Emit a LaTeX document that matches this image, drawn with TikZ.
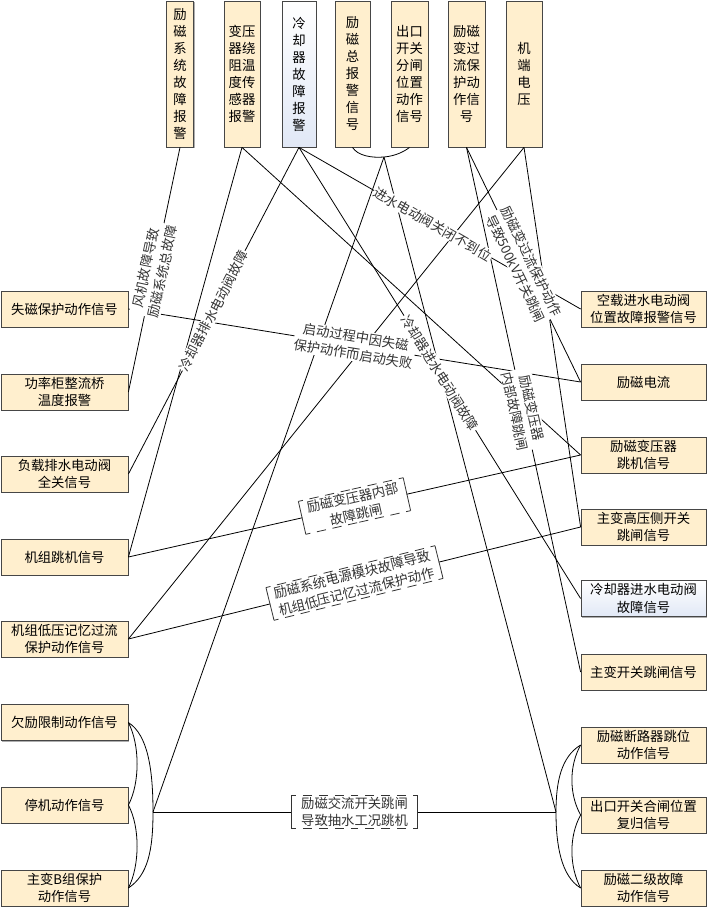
\documentclass[tikz,border=0pt]{standalone}
\usepackage{fontspec}
\setmainfont{Noto Sans CJK SC}
\usetikzlibrary{positioning,shadows}

\definecolor{boxfill}{RGB}{255,239,206}
\definecolor{boxline}{RGB}{70,70,70}
\definecolor{coolfill}{RGB}{225,232,246}

\tikzset{
  sig/.style={draw=boxline, line width=0.6pt, fill=boxfill, inner sep=0pt, align=center,
    font=\fontsize{10}{13}\selectfont,
    drop shadow={shadow xshift=1.1pt, shadow yshift=-1.1pt, fill=black!45, opacity=0.7}},
  sideleft/.style={sig, minimum width=95.25pt, minimum height=27pt},
  sideright/.style={sig, minimum width=93.75pt, minimum height=27pt},
  topsig/.style={sig, minimum width=27pt, minimum height=109.5pt, font=\fontsize{10}{12.75}\selectfont},
  coolsig/.style={top color=white, bottom color=coolfill},
  link/.style={line width=0.6pt},
  lab/.style={fill=white, inner sep=0.6pt, align=center, sloped, text=black!80,
    font=\fontsize{10}{13}\selectfont},
  dashlabel/.style={lab, inner xsep=5pt, inner ysep=1.2pt},
  bracketdash/.style={line width=0.6pt, black!80, dash pattern=on 7pt off 5pt, dash phase=3.5pt}
}

% solid sides, dashed top and bottom
\newcommand{\bracketbox}[1]{%
  \draw[line width=0.6pt, black!80] (#1.north west) -- (#1.south west);
  \draw[line width=0.6pt, black!80] (#1.north east) -- (#1.south east);
  \draw[bracketdash] (#1.north west) -- (#1.north);
  \draw[bracketdash] (#1.north east) -- (#1.north);
  \draw[bracketdash] (#1.south west) -- (#1.south);
  \draw[bracketdash] (#1.south east) -- (#1.south);
}

\begin{document}
\begin{tikzpicture}[x=0.75pt, y=-0.75pt]

    \useasboundingbox (0,0) rectangle (711,911);

    % signals on top
    \node[topsig, minimum width=20pt] (excfault) at (180,74) {励\\磁\\系\\统\\故\\障\\报\\警};
    \node[topsig] (windtemp) at (242,74) {变压\\器绕\\阻温\\度传\\感器\\报警};
    \node[topsig, coolsig, minimum width=25.5pt] (coolfault) at (299,74) {冷\\却\\器\\故\\障\\报\\警};
    \node[topsig, minimum width=26.25pt] (excalarm) at (352.5,74) {励\\磁\\总\\报\\警\\信\\号};
    \node[topsig, minimum width=27.75pt] (brkopen) at (409.5,74) {出口\\开关\\分闸\\位置\\动作\\信号};
    \node[topsig, minimum width=27.75pt] (xfmroc) at (466.5,74) {励磁\\变过\\流保\\护动\\作信\\号};
    \node[topsig] (termvolt) at (524,74) {机\\端\\电\\压};

    % signals on the left
    \node[sideleft] (lossexc) at (64.5,309) {失磁保护动作信号};
    \node[sideleft] (bridgetemp) at (64.5,392) {功率柜整流桥\\温度报警};
    \node[sideleft] (drainvalve) at (64.5,474) {负载排水电动阀\\全关信号};
    \node[sideleft] (unittrip) at (64.5,557) {机组跳机信号};
    \node[sideleft] (lowvoc) at (64.5,639) {机组低压记忆过流\\保护动作信号};
    \node[sideleft] (underexc) at (64.5,722.5) {欠励限制动作信号};
    \node[sideleft] (shutdown) at (64.5,805) {停机动作信号};
    \node[sideleft] (mainb) at (64.5,888) {主变B组保护\\动作信号};

    % signals on the right
    \node[sideright] (idlevalve) at (643.5,309) {空载进水电动阀\\位置故障报警信号};
    \node[sideright] (exccur) at (643.5,382) {励磁电流};
    \node[sideright] (xfmrtrip) at (643.5,455) {励磁变压器\\跳机信号};
    \node[sideright] (hvtrip) at (643.5,527) {主变高压侧开关\\跳闸信号};
    \node[sideright, coolsig] (inletvalve) at (643.5,598.5) {冷却器进水电动阀\\故障信号};
    \node[sideright] (maintrip) at (643.5,672) {主变开关跳闸信号};
    \node[sideright] (fcbtrip) at (643.5,745) {励磁断路器跳位\\动作信号};
    \node[sideright] (brkreset) at (643.5,815) {出口开关合闸位置\\复归信号};
    \node[sideright] (exclevel) at (643.5,888) {励磁二级故障\\动作信号};

    \coordinate (topjoin) at (384,157);
    \coordinate (leftjoin) at (153,812);
    \coordinate (rightjoin) at (556,812);

    % plain links
    \draw[link] (excalarm.south) .. controls (358,156) and (372,158) .. (topjoin)
        .. controls (396,156) and (405,151) .. (brkopen.south);
    \draw[link] (topjoin) -- (leftjoin);
    \draw[link] (topjoin) -- (rightjoin);
    \draw[link] (windtemp.south) -- (unittrip.east);
    \draw[link] (windtemp.south) -- (xfmrtrip.west);
    \draw[link] (termvolt.south) -- (lowvoc.east);
    \draw[link] (termvolt.south) -- (hvtrip.west);

    % left group
    \draw[link] (underexc.east) .. controls (140,745) and (140,783) .. (shutdown.east);
    \draw[link] (mainb.east) .. controls (140,865) and (140,827) .. (shutdown.east);
    \draw[link] (underexc.east) .. controls (148,735) and (153,770) .. (leftjoin);
    \draw[link] (mainb.east) .. controls (148,875) and (153,850) .. (leftjoin);

    % right group
    \draw[link] (fcbtrip.west) .. controls (569,766) and (569,794) .. (brkreset.west);
    \draw[link] (exclevel.west) .. controls (569,866) and (569,836) .. (brkreset.west);
    \draw[link] (fcbtrip.west) .. controls (561,757) and (556,782) .. (rightjoin);
    \draw[link] (exclevel.west) .. controls (561,876) and (556,845) .. (rightjoin);

    % labelled links
    \draw[link] (lossexc.east) -- node[lab] {启动过程中因失磁\\保护动作而启动失败} (exccur.west);
    \draw[link] (excfault.south) -- node[lab] {风机故障导致\\励磁系统总故障} (bridgetemp.east);
    \draw[link] (coolfault.south) -- node[lab] {冷却器排水电动阀故障} (drainvalve.east);
    \draw[link] (xfmroc.south) -- node[lab] {励磁变压器\\内部故障跳闸} (maintrip.west);
    \draw[link] (coolfault.south) -- node[lab, pos=0.475] {进水电动阀关闭不到位} (idlevalve.west);
    \draw[link] (xfmroc.south) -- node[lab] {励磁变过流保护动作\\导致500kV开关跳闸} (exccur.west);
    \draw[link] (coolfault.south) -- node[lab] {冷却器进水电动阀故障} (inletvalve.west);

    \draw[link] (unittrip.east) -- node[dashlabel] (xfmrnote) {励磁变压器内部\\故障跳闸} (xfmrtrip.west);
    \draw[link] (lowvoc.east) -- node[dashlabel] (powernote) {励磁系统电源模块故障导致\\机组低压记忆过流保护动作} (hvtrip.west);
    \draw[link] (leftjoin) -- node[dashlabel, inner xsep=7pt] (acnote) {励磁交流开关跳闸\\导致抽水工况跳机} (rightjoin);
    \bracketbox{xfmrnote}
    \bracketbox{powernote}
    \bracketbox{acnote}

\end{tikzpicture}
\end{document}
